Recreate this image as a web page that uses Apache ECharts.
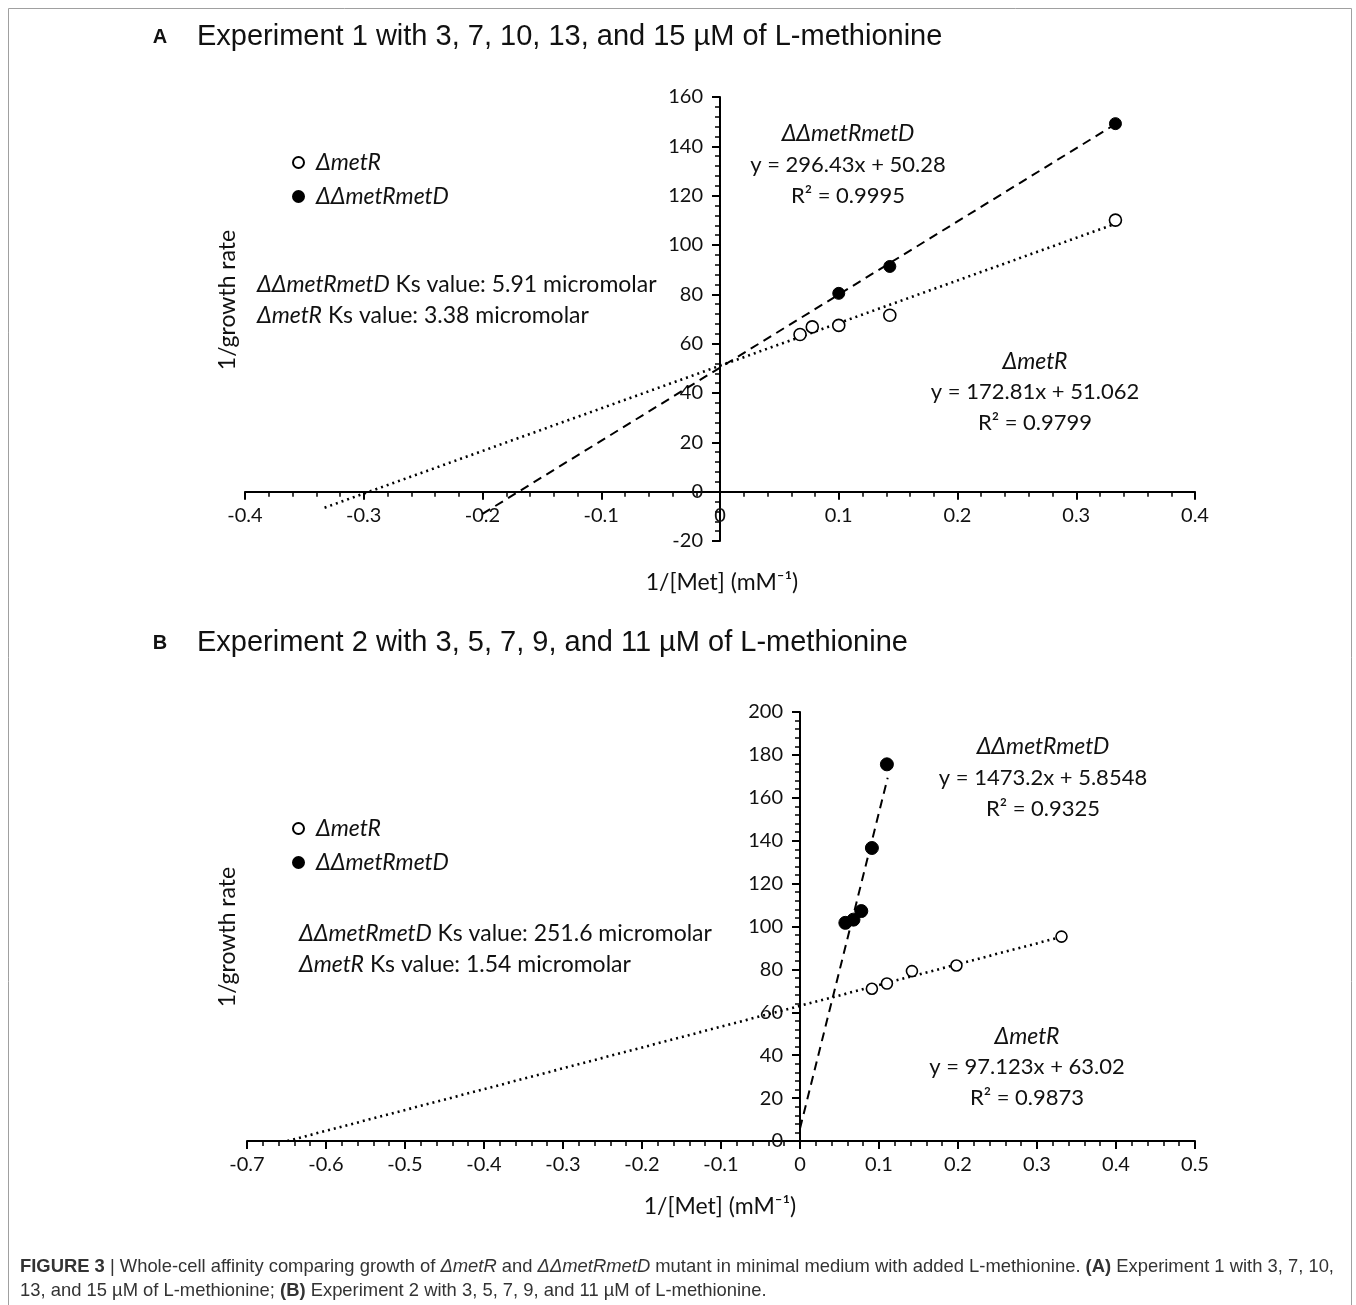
<!DOCTYPE html>
<html>
<head>
<meta charset="utf-8">
<script src="https://cdn.jsdelivr.net/npm/echarts@6/dist/echarts.min.js"></script>
<style>
html,body{margin:0;padding:0;background:#fff;}
#chart{width:1356px;height:1305px;}
</style>
</head>
<body>
<div id="chart"></div>
<script>
// ---------- Data ----------
const seriesNames = ['ΔmetR', 'ΔΔmetRmetD'];

// Panel A (Experiment 1)
const xA_metR = [0.0674, 0.0777, 0.1, 0.143, 0.333];
const yA_metR = [63.7, 66.8, 67.4, 71.5, 110.1];
const xA_dd   = [0.1, 0.143, 0.333];
const yA_dd   = [80.4, 91.3, 149.2];
// trendlines: [slope, intercept] and drawn x-range
const fitA_metR = [172.81, 51.062];
const rangeA_metR = [-0.333, 0.333];
const fitA_dd = [296.43, 50.28];
const rangeA_dd = [-0.2, 0.333];

// Panel B (Experiment 2)
const xB_metR = [0.091, 0.110, 0.1417, 0.198, 0.331];
const yB_metR = [71.0, 73.4, 79.2, 81.8, 95.3];
const xB_dd   = [0.0574, 0.0677, 0.0776, 0.091, 0.110];
const yB_dd   = [101.7, 103.2, 107.2, 136.6, 175.6];
const fitB_metR = [97.123, 63.02];
const rangeB_metR = [-0.6489, 0.333];
const fitB_dd = [1473.2, 5.8548];
const rangeB_dd = [0, 0.111];

// axis ranges / ticks
const xAxisA = [-0.4, 0.4, 0.1];
const yAxisA = [-20, 160, 20];
const xAxisB = [-0.7, 0.5, 0.1];
const yAxisB = [0, 200, 20];

// texts
const titleA = 'Experiment 1 with 3, 7, 10, 13, and 15 µM of L-methionine';
const titleB = 'Experiment 2 with 3, 5, 7, 9, and 11 µM of L-methionine';
const eqA_dd = ['y = 296.43x + 50.28', 'R² = 0.9995'];
const eqA_metR = ['y = 172.81x + 51.062', 'R² = 0.9799'];
const eqB_dd = ['y = 1473.2x + 5.8548', 'R² = 0.9325'];
const eqB_metR = ['y = 97.123x + 63.02', 'R² = 0.9873'];
const ksA = ['5.91', '3.38'];
const ksB = ['251.6', '1.54'];

// ---------- Build ----------
const zip = (xs, ys) => xs.map((x, i) => [x, ys[i]]);
const fitLine = (fit, range) => range.map(x => [x, fit[0] * x + fit[1]]);

const FONT = 'Lato';
const FS = 23;
const FE = 22;
const fmt = v => String(Number(v.toFixed(1)));

// grid geometry
const gridA = { left: 245, top: 97, width: 950, height: 444 };
const gridB = { left: 247, top: 712, width: 948, height: 429 };
// pixel offsets placing each axis on the other's zero
const zeroX = (g, ax) => g.width * (0 - ax[0]) / (ax[1] - ax[0]);
const zeroYfromBottom = (g, ax) => g.height * (0 - ax[0]) / (ax[1] - ax[0]);

function xAxisOf(idx, ax, g, ay) {
  return {
    type: 'value', gridIndex: idx, min: ax[0], max: ax[1], interval: ax[2],
    position: 'bottom', offset: -zeroYfromBottom(g, ay),
    axisLine: { onZero: false, lineStyle: { color: '#000', width: 2 } },
    axisTick: { show: true, length: 8, lineStyle: { color: '#000', width: 2 } },
    minorTick: { show: true, splitNumber: 5, length: 5, lineStyle: { color: '#000', width: 1.5 } },
    splitLine: { show: false },
    axisLabel: { formatter: fmt, color: '#111', fontFamily: FONT, fontSize: 20, margin: 14 }
  };
}
function yAxisOf(idx, ay, g, ax) {
  return {
    type: 'value', gridIndex: idx, min: ay[0], max: ay[1], interval: ay[2],
    position: 'left', offset: -zeroX(g, ax),
    axisLine: { onZero: false, lineStyle: { color: '#000', width: 2 } },
    axisTick: { show: true, length: 8, lineStyle: { color: '#000', width: 2 } },
    minorTick: { show: true, splitNumber: 5, length: 5, lineStyle: { color: '#000', width: 1.5 } },
    splitLine: { show: false },
    axisLabel: { color: '#111', fontFamily: FONT, fontSize: 20, margin: 17 }
  };
}

const openStyle = { color: '#fff', borderColor: '#000', borderWidth: 1.6, opacity: 1 };
const fillStyle = { color: '#000', borderColor: '#000', borderWidth: 1, opacity: 1 };

function scatter(name, idx, data, style, size) {
  return { name, type: 'scatter', xAxisIndex: idx, yAxisIndex: idx, data, symbol: 'circle',
           symbolSize: size, itemStyle: style, z: 5, emphasis: { disabled: true } };
}
function trend(idx, data, type, width) {
  return { name: 'trend', type: 'line', xAxisIndex: idx, yAxisIndex: idx, data, symbol: 'none',
           lineStyle: { color: '#000', width, type }, z: 3, silent: true };
}

const txt = (x, y, text, extra) => ({
  type: 'text', x, y,
  style: Object.assign({ text, fill: '#111', font: FE + 'px ' + FONT, align: 'center', verticalAlign: 'middle' }, extra || {})
});
const rich = {
  i: { fontStyle: 'italic', fontFamily: FONT, fontSize: FS, fill: '#111' },
  n: { fontFamily: FONT, fontSize: FS, fill: '#111' }
};
const CAP = 18.4;
const capRich = {
  b: { fontWeight: 'bold', fontFamily: 'Liberation Sans', fontSize: CAP, fill: '#333' },
  i: { fontStyle: 'italic', fontFamily: 'Liberation Sans', fontSize: CAP, fill: '#333' },
  n: { fontFamily: 'Liberation Sans', fontSize: CAP, fill: '#333' }
};

const graphic = [
  { type: 'rect', shape: { x: 8.5, y: 8.5, width: 1343, height: 1320 }, style: { fill: 'none', stroke: '#a0a0a0', lineWidth: 1 } },
  // panel titles
  txt(160, 37, 'A', { font: 'bold 20px Liberation Sans', fill: '#111' }),
  txt(197, 37, titleA, { font: '29px Liberation Sans', align: 'left', fill: '#111' }),
  txt(160, 643, 'B', { font: 'bold 20px Liberation Sans', fill: '#111' }),
  txt(197, 643, titleB, { font: '29px Liberation Sans', align: 'left', fill: '#111' }),
  // axis names
  Object.assign(txt(228, 300, '1/growth rate', { font: FS + 'px ' + FONT }), { rotation: Math.PI / 2 }),
  txt(722, 583, '1/[Met] (mM⁻¹)', { font: FS + 'px ' + FONT }),
  Object.assign(txt(228, 937, '1/growth rate', { font: FS + 'px ' + FONT }), { rotation: Math.PI / 2 }),
  txt(720, 1207, '1/[Met] (mM⁻¹)', { font: FS + 'px ' + FONT }),
  // Ks annotations
  txt(257, 285, '{i|ΔΔmetRmetD}{n| Ks value: ' + ksA[0] + ' micromolar}', { align: 'left', rich }),
  txt(257, 316, '{i|ΔmetR}{n| Ks value: ' + ksA[1] + ' micromolar}', { align: 'left', rich }),
  txt(299, 934, '{i|ΔΔmetRmetD}{n| Ks value: ' + ksB[0] + ' micromolar}', { align: 'left', rich }),
  txt(299, 965, '{i|ΔmetR}{n| Ks value: ' + ksB[1] + ' micromolar}', { align: 'left', rich }),
  // equations A
  txt(848, 134, '{i|ΔΔmetRmetD}', { rich }),
  txt(848, 165, eqA_dd[0]),
  txt(848, 196, eqA_dd[1]),
  txt(1035, 362, '{i|ΔmetR}', { rich }),
  txt(1035, 392, eqA_metR[0]),
  txt(1035, 423, eqA_metR[1]),
  // equations B
  txt(1043, 747, '{i|ΔΔmetRmetD}', { rich }),
  txt(1043, 778, eqB_dd[0]),
  txt(1043, 809, eqB_dd[1]),
  txt(1027, 1037, '{i|ΔmetR}', { rich }),
  txt(1027, 1067, eqB_metR[0]),
  txt(1027, 1098, eqB_metR[1]),
  // caption
  txt(20, 1267, '{b|FIGURE 3}{n| | Whole-cell affinity comparing growth of }{i|ΔmetR}{n| and }{i|ΔΔmetRmetD}{n| mutant in minimal medium with added L-methionine. }{b|(A)}{n| Experiment 1 with 3, 7, 10,}', { align: 'left', rich: capRich }),
  txt(20, 1291, '{n|13, and 15 µM of L-methionine; }{b|(B)}{n| Experiment 2 with 3, 5, 7, 9, and 11 µM of L-methionine.}', { align: 'left', rich: capRich })
];

const legendOf = (top) => ({
  orient: 'vertical', left: 287, top, itemWidth: 11, itemHeight: 11, itemGap: 11,
  data: seriesNames, selectedMode: false,
  textStyle: { fontFamily: FONT, fontSize: FS, fontStyle: 'italic', color: '#111', padding: [0, 0, 0, 7] }
});

const option = {
  animation: false,
  backgroundColor: '#fff',
  grid: [gridA, gridB],
  xAxis: [xAxisOf(0, xAxisA, gridA, yAxisA), xAxisOf(1, xAxisB, gridB, yAxisB)],
  yAxis: [yAxisOf(0, yAxisA, gridA, xAxisA), yAxisOf(1, yAxisB, gridB, xAxisB)],
  legend: [legendOf(146), legendOf(812)],
  series: [
    trend(0, fitLine(fitA_metR, rangeA_metR), [2, 4], 2.6),
    trend(0, fitLine(fitA_dd, rangeA_dd), [9, 6], 2),
    scatter(seriesNames[0], 0, zip(xA_metR, yA_metR), openStyle, 12),
    scatter(seriesNames[1], 0, zip(xA_dd, yA_dd), fillStyle, 12),
    trend(1, fitLine(fitB_metR, rangeB_metR), [2, 4], 2.6),
    trend(1, fitLine(fitB_dd, rangeB_dd), [9, 6], 2),
    scatter(seriesNames[0], 1, zip(xB_metR, yB_metR), openStyle, 11),
    scatter(seriesNames[1], 1, zip(xB_dd, yB_dd), fillStyle, 13)
  ],
  graphic
};

const chart = echarts.init(document.getElementById('chart'), null, { renderer: 'canvas' });
chart.setOption(option);
</script>
</body>
</html>
